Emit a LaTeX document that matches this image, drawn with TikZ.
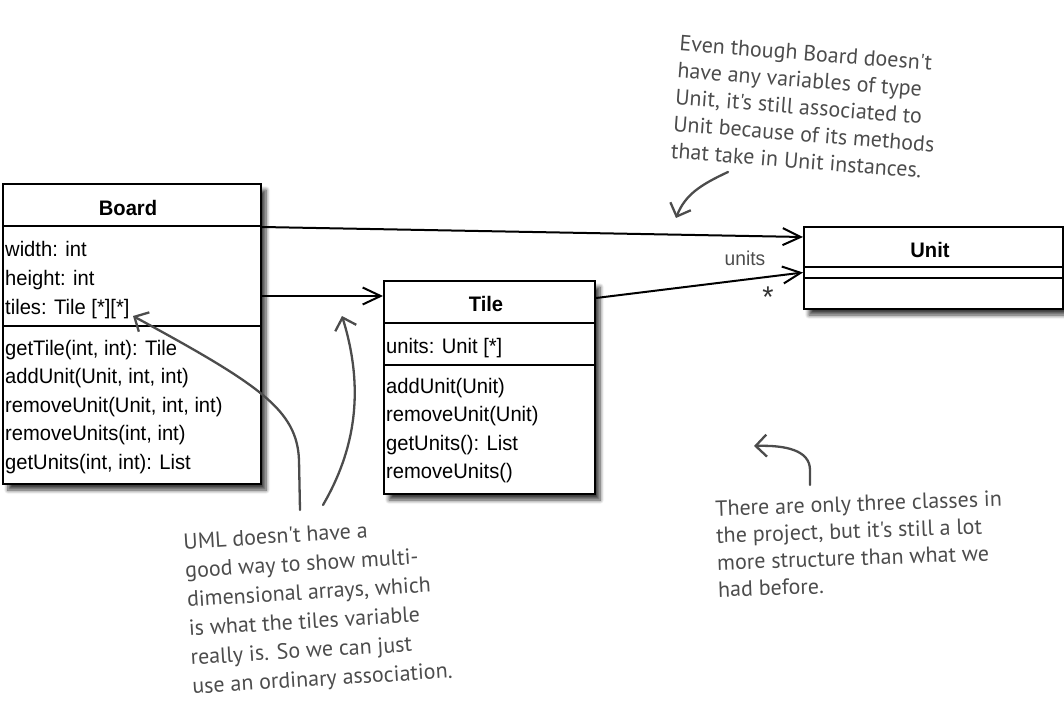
\documentclass[tikz,border=0pt]{standalone}
\usepackage{fontspec}
\setmainfont{Liberation Sans}[FakeStretch=0.96]
\newfontfamily\handfont{PT Sans}
\usetikzlibrary{arrows.meta,shadows.blur}
\definecolor{handgray}{HTML}{4C4C4C}
\tikzset{
  shadowbox/.style={fill=white, draw=black, line width=2pt, anchor=north west, inner sep=0pt,
    blur shadow={shadow xshift=5pt, shadow yshift=-6pt, shadow blur steps=7, shadow blur radius=4pt, shadow opacity=75}},
  compart/.style={draw=black, line width=2pt, anchor=north west, inner sep=0pt},
  cls/.style={font=\fontsize{21}{25}\selectfont, anchor=base west, inner sep=0pt},
  clstitle/.style={font=\fontsize{21}{25}\selectfont\bfseries, anchor=base, inner sep=0pt},
  assoc/.style={draw=black, line width=2pt, -{Straight Barb[length=18pt,width=17pt]}},
  handarrow/.style={draw=handgray, line width=2.3pt, line cap=round, -{Straight Barb[length=11pt,width=22pt]}},
  note/.style={font=\handfont\fontsize{22}{27}\selectfont, text=handgray, align=left, inner sep=0pt},
  lbl/.style={font=\fontsize{20}{24}\selectfont, text=handgray, inner sep=0pt}
}
\begin{document}
\begin{tikzpicture}[x=1pt,y=-1pt]
\useasboundingbox (0,0) rectangle (1064,719);
% ---------- Board ----------
\node[shadowbox, minimum width=258pt, minimum height=300pt] (board) at (2,183) {};
\node[compart, minimum width=258pt, minimum height=42pt] (boardTitle) at (2,183) {};
\node[compart, minimum width=258pt, minimum height=100pt] (boardAttr) at (2,225) {};
\node[compart, minimum width=258pt, minimum height=158pt] (boardOps) at (2,325) {};
\node[clstitle] (tBoard) at (128,215) {Board};
\node[cls] (b1) at (5,256) {width: int};
\node[cls] (b2) at (5,285) {height: int};
\node[cls] (b3) at (5,314) {tiles: Tile [*][*]};
\node[cls] (b4) at (5,355) {getTile(int, int): Tile};
\node[cls] (b5) at (5,383.5) {addUnit(Unit, int, int)};
\node[cls] (b6) at (5,412) {removeUnit(Unit, int, int)};
\node[cls] (b7) at (5,440.5) {removeUnits(int, int)};
\node[cls] (b8) at (5,469) {getUnits(int, int): List};
% ---------- Tile ----------
\node[shadowbox, minimum width=211pt, minimum height=213pt] (tile) at (383,280) {};
\node[compart, minimum width=211pt, minimum height=42pt] (tileTitle) at (383,280) {};
\node[compart, minimum width=211pt, minimum height=42pt] (tileAttr) at (383,322) {};
\node[compart, minimum width=211pt, minimum height=129pt] (tileOps) at (383,364) {};
\node[clstitle] (tTile) at (486,311) {Tile};
\node[cls] (t1) at (386,353) {units: Unit [*]};
\node[cls] (t2) at (386,393) {addUnit(Unit)};
\node[cls] (t3) at (386,421.5) {removeUnit(Unit)};
\node[cls] (t4) at (386,450) {getUnits(): List};
\node[cls] (t5) at (386,478.5) {removeUnits()};
% ---------- Unit ----------
\node[shadowbox, minimum width=259pt, minimum height=82pt] (unit) at (803,226) {};
\node[compart, minimum width=259pt, minimum height=40pt] (unitTitle) at (803,226) {};
\node[compart, minimum width=259pt, minimum height=11pt] (unitAttr) at (803,266) {};
\node[compart, minimum width=259pt, minimum height=31pt] (unitOps) at (803,277) {};
\node[clstitle] (tUnit) at (930,257) {Unit};
% ---------- associations ----------
\draw[assoc] ([yshift=-22pt]boardTitle.east) -- ([yshift=10pt]unitTitle.west);
\draw[assoc] ([yshift=-20pt]boardAttr.east) -- ([yshift=6pt]tileTitle.west);
\draw[assoc] ([yshift=4pt]tileTitle.east) -- (unitAttr.west);
\node[lbl] (unitsLbl) at (745,258) {units};
\node[font=\fontsize{30}{30}\selectfont, text=black!80, inner sep=0pt] (star) at (768,297) {*};
% ---------- notes ----------
\node[note, rotate=-4.5] (noteTop) at (806,107) {Even though Board doesn't\\have any variables of type\\Unit, it's still associated to\\Unit because of its methods\\that take in Unit instances.};
\node[note, rotate=3.5, font=\handfont\fontsize{22}{29}\selectfont] (noteLeft) at (318,608) {UML doesn't have a\\good way to show multi-\\dimensional arrays, which\\is what the tiles variable\\really is. So we can just\\use an ordinary association.};
\node[note, rotate=2] (noteRight) at (860,544) {There are only three classes in\\the project, but it's still a lot\\more structure than what we\\had before.};
% ---------- hand arrows ----------
\coordinate (aStart) at (300,510);
\coordinate (aTip) at (133,316);
\coordinate (bStart) at (323,505);
\coordinate (bTip) at (342,316);
\coordinate (cStart) at (728,172);
\coordinate (cTip) at (676,218);
\coordinate (dStart) at (810,485);
\coordinate (dTip) at (754,446);
\draw[handarrow] (aStart) -- (299,460) .. controls (297,410) and (260,385) .. (aTip);
\draw[handarrow] (bStart) .. controls (355,450) and (365,390) .. (bTip);
\draw[handarrow] (cStart) .. controls (700,185) and (685,195) .. (cTip);
\draw[handarrow] (dStart) -- (810,470) .. controls (810,450) and (785,445) .. (dTip);
\end{tikzpicture}
\end{document}
